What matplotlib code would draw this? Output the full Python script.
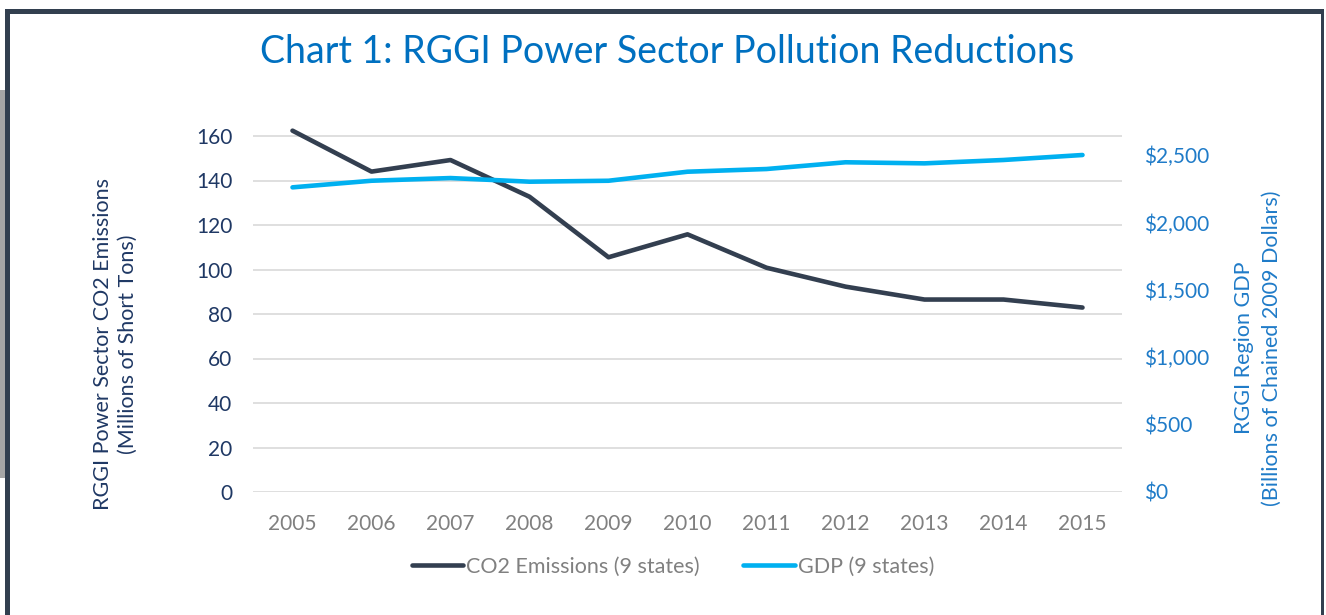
import matplotlib
matplotlib.use("Agg")
import matplotlib.pyplot as plt
from matplotlib.lines import Line2D
from matplotlib.patches import Rectangle

years = ["2005", "2006", "2007", "2008", "2009", "2010", "2011", "2012", "2013", "2014", "2015"]
co2 = [162.4, 144.0, 149.2, 132.7, 105.5, 115.8, 100.8, 92.3, 86.5, 86.5, 82.9]
gdp = [2260, 2309, 2329, 2302, 2309, 2376, 2396, 2446, 2438, 2463, 2500]
left_ticks = [0, 20, 40, 60, 80, 100, 120, 140, 160]
right_ticks = [0, 500, 1000, 1500, 2000, 2500]
right_labels = ["$0", "$500", "$1,000", "$1,500", "$2,000", "$2,500"]

FONT = "Lato"
plt.rcParams["font.family"] = [FONT, "DejaVu Sans"]

W, H = 1326, 615
fig = plt.figure(figsize=(W / 100, H / 100), dpi=100)
fig.patch.set_facecolor("white")

def fx(px):
    return px / W

def fy(py):
    return 1 - py / H

# Frame and side bar
fig.patches.append(Rectangle((0, fy(478)), fx(5), (478 - 90) / H, transform=fig.transFigure,
                             facecolor="#a6a6a6", edgecolor="none"))
fig.patches.append(Rectangle((fx(5), fy(14)), fx(1319), 5 / H, transform=fig.transFigure,
                             facecolor="#323f4f", edgecolor="none"))
fig.patches.append(Rectangle((fx(5), 0), fx(5), fy(9), transform=fig.transFigure,
                             facecolor="#323f4f", edgecolor="none"))
fig.patches.append(Rectangle((fx(1321), 0), fx(3), fy(9), transform=fig.transFigure,
                             facecolor="#323f4f", edgecolor="none"))

ax_left, ax_right, ax_bottom = 253, 1122, 492
ymax = 165
px_per_unit = 2.225
ax_top = ax_bottom - ymax * px_per_unit
ax = fig.add_axes([fx(ax_left), fy(ax_bottom), fx(ax_right - ax_left), (ax_bottom - ax_top) / H])
ax2 = ax.twinx()

x = list(range(len(years)))
c_co2 = "#333f50"
c_gdp = "#00b0f0"
ax.plot(x, co2, color=c_co2, lw=3.3, solid_capstyle="round", solid_joinstyle="round",
        clip_on=False, zorder=3)
ax2.plot(x, gdp, color=c_gdp, lw=3.3, solid_capstyle="round", solid_joinstyle="round",
         clip_on=False, zorder=3)

ax.set_xlim(-0.5, len(years) - 0.5)
ax.set_ylim(0, ymax)
ratio = px_per_unit / (337 / 2500)
ax2.set_ylim(0, ymax * ratio)

ax.set_yticks(left_ticks)
ax.set_yticklabels([str(t) for t in left_ticks])
ax2.set_yticks(right_ticks)
ax2.set_yticklabels(right_labels)
ax.set_xticks(x)
ax.set_xticklabels(years)

for a in (ax, ax2):
    for s in a.spines.values():
        s.set_visible(False)
    a.tick_params(length=0)

ax.grid(axis="y", color="#d9d9d9", lw=1.2)
ax.set_axisbelow(True)
ax.tick_params(axis="y", labelsize=15, labelcolor="#1f3864", pad=15)
ax.tick_params(axis="x", labelsize=15, labelcolor="#808080", pad=16)
ax2.tick_params(axis="y", labelsize=15, labelcolor="#1f7bc8", pad=16)

fig.text(0.503, fy(52), "Chart 1: RGGI Power Sector Pollution Reductions", ha="center", va="center",
         fontsize=27, color="#0070c0")

fig.text(fx(115), fy(344), "RGGI Power Sector CO2 Emissions\n(Millions of Short Tons)",
         rotation=90, ha="center", va="center", multialignment="center",
         fontsize=15.5, color="#1f3864", linespacing=1.3)
fig.text(fx(1258), fy(348), "RGGI Region GDP\n(Billions of Chained 2009 Dollars)",
         rotation=90, ha="center", va="center", multialignment="center",
         fontsize=15.5, color="#1f7bc8", linespacing=1.45)

handles = [Line2D([], [], color=c_co2, lw=3.3, solid_capstyle="round"),
           Line2D([], [], color=c_gdp, lw=3.3, solid_capstyle="round")]
fig.legend(handles, ["CO2 Emissions (9 states)", "GDP (9 states)"], loc="center",
           bbox_to_anchor=(fx(673), fy(567)), ncol=2, frameon=False, fontsize=15.5,
           labelcolor="#808080", handlelength=2.4, handletextpad=0.15, columnspacing=2.0)

fig.savefig("out.png", dpi=100, facecolor="white")
